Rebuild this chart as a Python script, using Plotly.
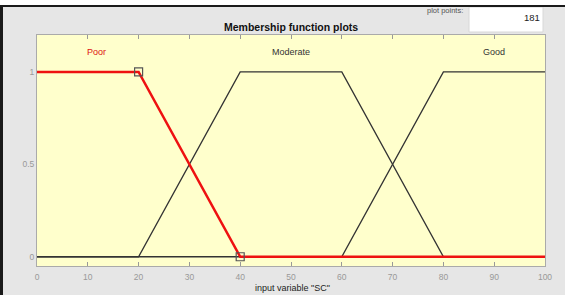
import plotly.graph_objects as go

# ---- data ----
mf_names = ["Poor", "Moderate", "Good"]
poor_x = [0, 20, 40, 100]
poor_y = [1, 1, 0, 0]
moderate_x = [0, 20, 40, 60, 80, 100]
moderate_y = [0, 0, 1, 1, 0, 0]
good_x = [0, 60, 80, 100]
good_y = [0, 0, 1, 1]
marker_x = [20, 40]
marker_y = [1, 0]
label_x = [11.8, 50, 90]
label_y = [1.11, 1.11, 1.11]
x_ticks = [0, 10, 20, 30, 40, 50, 60, 70, 80, 90, 100]
y_ticks = [0, 0.5, 1]
plot_points = "181"

W, H = 565, 295
ML, MR, MT, MB = 37, 20, 35, 29
PW, PH = W - ML - MR, H - MT - MB

def px(x):
    return (x - ML) / PW

def py(y):
    return 1 - (y - MT) / PH

FONT = "Liberation Sans, Arial, sans-serif"

fig = go.Figure()
fig.add_trace(go.Scatter(x=moderate_x, y=moderate_y, mode="lines",
                         line=dict(color="#333333", width=1.3), hoverinfo="skip"))
fig.add_trace(go.Scatter(x=good_x, y=good_y, mode="lines",
                         line=dict(color="#333333", width=1.3), hoverinfo="skip"))
fig.add_trace(go.Scatter(x=poor_x, y=poor_y, mode="lines",
                         line=dict(color="#ee1111", width=2.5), hoverinfo="skip"))
fig.add_trace(go.Scatter(x=marker_x, y=marker_y, mode="markers",
                         marker=dict(symbol="square-open", size=8,
                                     color="#555555", line=dict(width=1.2)),
                         hoverinfo="skip"))

annotations = []
for name, lx, ly in zip(mf_names, label_x, label_y):
    annotations.append(dict(x=lx, y=ly, xref="x", yref="y", text=name,
                            showarrow=False, xanchor="center", yanchor="middle",
                            font=dict(family=FONT, size=9,
                                      color="#dd1111" if name == "Poor" else "#333333")))

annotations += [
    dict(x=px(291), y=py(27), xref="paper", yref="paper",
         text="<b>Membership function plots</b>", showarrow=False,
         xanchor="center", yanchor="middle",
         font=dict(family=FONT, size=10.5, color="#111111")),
    dict(x=px(292), y=py(288), xref="paper", yref="paper",
         text='input variable "SC"', showarrow=False,
         xanchor="center", yanchor="middle",
         font=dict(family=FONT, size=9, color="#222222")),
    dict(x=px(465), y=py(11), xref="paper", yref="paper",
         text="plot points:", showarrow=False, xanchor="right", yanchor="middle",
         font=dict(family=FONT, size=7.5, color="#555555")),
    dict(x=px(542), y=py(18), xref="paper", yref="paper",
         text=plot_points, showarrow=False, xanchor="right", yanchor="middle",
         font=dict(family=FONT, size=9.5, color="#222222")),
]

shapes = [
    # top white strip and dark border
    dict(type="rect", xref="paper", yref="paper", x0=px(0), x1=px(W),
         y0=py(0), y1=py(5), fillcolor="#ffffff", line=dict(width=0), layer="below"),
    # plot points box
    dict(type="rect", xref="paper", yref="paper", x0=px(469), x1=px(543),
         y0=py(7), y1=py(32), fillcolor="#ffffff",
         line=dict(color="#d8d8d8", width=1)),
    dict(type="rect", xref="paper", yref="paper", x0=px(0), x1=px(W),
         y0=py(5), y1=py(7), fillcolor="#1a1a1a", line=dict(width=0)),
    dict(type="rect", xref="paper", yref="paper", x0=px(0), x1=px(3),
         y0=py(5), y1=py(H), fillcolor="#1a1a1a", line=dict(width=0)),
]

fig.update_layout(
    width=W, height=H,
    margin=dict(l=ML, r=MR, t=MT, b=MB),
    paper_bgcolor="#e6e6e6",
    plot_bgcolor="#ffffcc",
    showlegend=False,
    annotations=annotations,
    shapes=shapes,
    font=dict(family=FONT),
)
fig.update_xaxes(range=[0, 100], tickvals=x_ticks, ticks="inside", ticklen=4,
                 tickcolor="#999999", mirror="ticks", showline=True,
                 linecolor="#aaaaaa", linewidth=1, showgrid=False, zeroline=False,
                 tickfont=dict(family=FONT, size=8.5, color="#999999"),
                 ticklabelstandoff=3, fixedrange=True)
fig.update_yaxes(range=[-0.05, 1.2], tickvals=y_ticks, ticktext=["0", "0.5", "1"],
                 ticks="", showline=True, mirror=True, linecolor="#aaaaaa",
                 linewidth=1, showgrid=False, zeroline=False,
                 tickfont=dict(family=FONT, size=8.5, color="#999999"),
                 fixedrange=True)

fig.write_html("out.html", config={"displayModeBar": False},
               post_script="document.body.style.margin='0px';"
                           "document.body.style.overflow='hidden';")
